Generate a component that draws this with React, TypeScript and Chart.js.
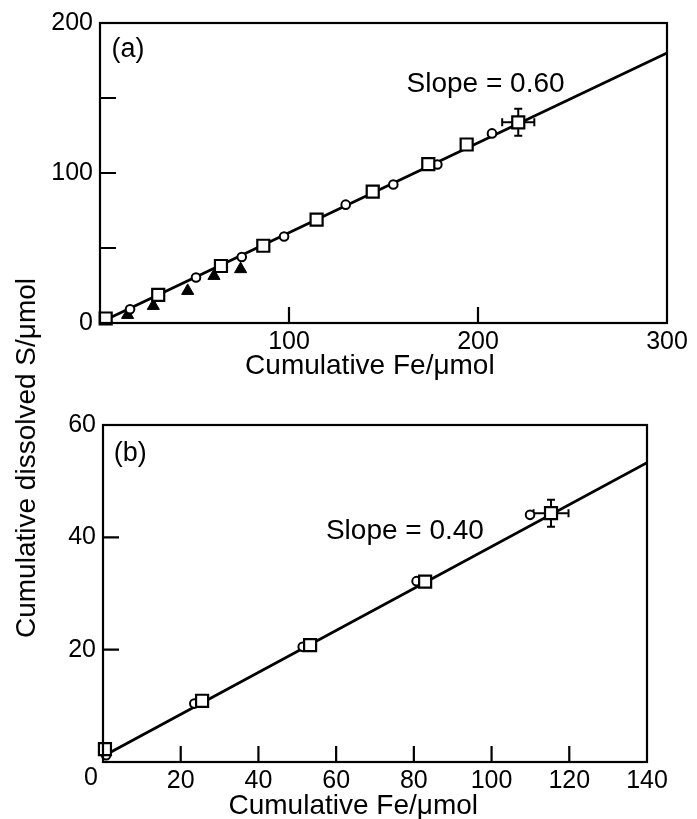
import React, { useEffect, useRef } from "react";
import { Chart, registerables } from "chart.js";

Chart.register(...registerables);

const FONT = "'Liberation Sans', Arial, Helvetica, sans-serif";

// ---------- Panel (a) data ----------
const A_SQ_X = [3, 30.8, 64, 86.4, 114.6, 144.3, 173.7, 194, 221.3];
const A_SQ_Y = [3, 18.7, 38, 51.5, 68.9, 87.6, 105.9, 119, 133.8];
const A_CI_X = [15.9, 50.8, 75, 97.4, 130, 155.2, 178.5, 207.4];
const A_CI_Y = [9.2, 30.3, 44, 57.7, 78.9, 92.3, 105.7, 126.4];
const A_TR_X = [14.6, 28.2, 46.4, 60.3, 74.4];
const A_TR_Y = [5.4, 11.4, 21.4, 31.4, 35.9];
const A_FIT_X = [2, 300];
const A_FIT_Y = [1.5, 180];
const A_ERR_X = [8.5]; // error on last square (x)
const A_ERR_Y = [9]; // error on last square (y)
const A_XTICKS = [100, 200];
const A_YTICKS = [50, 100, 150];

// ---------- Panel (b) data ----------
const B_SQ_X = [0.5, 25.5, 53.3, 82.9, 115.3];
const B_SQ_Y = [2.3, 10.9, 20.8, 32.1, 44.3];
const B_CI_X = [0.8, 23.5, 51.4, 80.7, 109.9];
const B_CI_Y = [1.2, 10.4, 20.5, 32.2, 44];
const B_FIT_X = [0.5, 140];
const B_FIT_Y = [1.2, 53.3];
const B_ERR_X = [4.5];
const B_ERR_Y = [2.4];
const B_XTICKS = [20, 40, 60, 80, 100, 120];
const B_YTICKS = [20, 40];

const X_TITLE = "Cumulative Fe/\u03bcmol";
const Y_TITLE = "Cumulative dissolved S/\u03bcmol";

const pts = (xs: number[], ys: number[]) => xs.map((x, i) => ({ x, y: ys[i] }));

const decorPlugin = {
  id: "decor",
  beforeDatasetsDraw(chart: any, _a: any, opts: any) {
    const ctx = chart.ctx;
    const xs = chart.scales.x;
    const ys = chart.scales.y;
    (opts.errorBars || []).forEach((e: any) => {
      const px = xs.getPixelForValue(e.x);
      const py = ys.getPixelForValue(e.y);
      const x0 = xs.getPixelForValue(e.x - e.ex);
      const x1 = xs.getPixelForValue(e.x + e.ex);
      const y0 = ys.getPixelForValue(e.y - e.ey);
      const y1 = ys.getPixelForValue(e.y + e.ey);
      const cap = 4;
      ctx.save();
      ctx.strokeStyle = "#000";
      ctx.lineWidth = 2;
      ctx.beginPath();
      ctx.moveTo(x0, py);
      ctx.lineTo(x1, py);
      ctx.moveTo(px, y0);
      ctx.lineTo(px, y1);
      ctx.moveTo(x0, py - cap);
      ctx.lineTo(x0, py + cap);
      ctx.moveTo(x1, py - cap);
      ctx.lineTo(x1, py + cap);
      ctx.moveTo(px - cap, y0);
      ctx.lineTo(px + cap, y0);
      ctx.moveTo(px - cap, y1);
      ctx.lineTo(px + cap, y1);
      ctx.stroke();
      ctx.restore();
    });
  },
  afterDraw(chart: any, _a: any, opts: any) {
    const ctx = chart.ctx;
    const area = chart.chartArea;
    const xs = chart.scales.x;
    const ys = chart.scales.y;
    ctx.save();
    ctx.strokeStyle = "#000";
    ctx.lineWidth = 2.2;
    ctx.strokeRect(area.left, area.top, area.right - area.left, area.bottom - area.top);
    const tl = opts.tickLen || 16;
    ctx.beginPath();
    (opts.xTicks || []).forEach((v: number) => {
      const p = xs.getPixelForValue(v);
      ctx.moveTo(p, area.bottom);
      ctx.lineTo(p, area.bottom - tl);
    });
    (opts.yTicks || []).forEach((v: number) => {
      const p = ys.getPixelForValue(v);
      ctx.moveTo(area.left, p);
      ctx.lineTo(area.left + tl, p);
    });
    ctx.stroke();
    ctx.fillStyle = "#000";
    (opts.texts || []).forEach((t: any) => {
      ctx.font = `${t.size}px ${FONT}`;
      ctx.textAlign = t.align || "center";
      ctx.textBaseline = "middle";
      const x = t.px !== undefined ? t.px : xs.getPixelForValue(t.x);
      const y = t.py !== undefined ? t.py : ys.getPixelForValue(t.y);
      ctx.fillText(t.text, x + (t.dx || 0), y + (t.dy || 0));
    });
    if (opts.xTitle) {
      const t = opts.xTitle;
      ctx.font = `${t.size}px ${FONT}`;
      ctx.textAlign = "center";
      ctx.textBaseline = "middle";
      ctx.fillText(t.text, area.left + t.frac * (area.right - area.left), area.bottom + t.dy);
    }
    ctx.restore();
  },
};

function makeConfig(p: any) {
  return {
    type: "scatter",
    data: {
      datasets: [
        {
          label: "squares",
          data: pts(p.sqX, p.sqY),
          pointStyle: "rect",
          pointRadius: 8.5,
          pointBackgroundColor: "#fff",
          pointBorderColor: "#000",
          pointBorderWidth: 2.2,
          clip: 10,
          order: 1,
        },
        {
          label: "circles",
          data: pts(p.ciX, p.ciY),
          pointStyle: "circle",
          pointRadius: 4.3,
          pointBackgroundColor: "#fff",
          pointBorderColor: "#000",
          pointBorderWidth: 2,
          clip: 10,
          order: 2,
        },
        ...(p.trX
          ? [
              {
                label: "triangles",
                data: pts(p.trX, p.trY),
                pointStyle: "triangle",
                pointRadius: 7,
                pointBackgroundColor: "#000",
                pointBorderColor: "#000",
                pointBorderWidth: 1,
                clip: 10,
                order: 3,
              },
            ]
          : []),
        {
          label: "fit",
          type: "line",
          data: pts(p.fitX, p.fitY),
          showLine: true,
          borderColor: "#000",
          borderWidth: 2.8,
          pointRadius: 0,
          fill: false,
          order: 10,
        },
      ],
    },
    options: {
      responsive: false,
      maintainAspectRatio: false,
      animation: false,
      events: [],
      layout: { padding: { top: p.padTop, right: p.padRight, left: 0, bottom: 0 } },
      plugins: {
        legend: { display: false },
        tooltip: { enabled: false },
        decor: p.decor,
      },
      scales: {
        x: {
          type: "linear",
          min: p.xMin,
          max: p.xMax,
          afterFit: (s: any) => {
            s.height = p.xAxisH;
          },
          grid: { display: false, drawTicks: false },
          border: { display: false },
          ticks: {
            stepSize: p.xStep,
            autoSkip: false,
            maxRotation: 0,
            padding: p.xTickPad,
            color: "#000",
            font: { family: FONT, size: 25 },
            callback: (v: any) => (v === 0 ? "" : String(v)),
          },
        },
        y: {
          type: "linear",
          min: p.yMin,
          max: p.yMax,
          afterFit: (s: any) => {
            s.width = p.yAxisW;
          },
          grid: { display: false, drawTicks: false },
          border: { display: false },
          ticks: {
            stepSize: p.yStep,
            autoSkip: false,
            padding: 7,
            color: "#000",
            font: { family: FONT, size: 25 },
            callback: (v: any) => (p.hideY0 && v === 0 ? "" : String(v)),
          },
        },
      },
    },
    plugins: [decorPlugin],
  } as any;
}

export default function App() {
  const refA = useRef<HTMLCanvasElement>(null);
  const refB = useRef<HTMLCanvasElement>(null);

  useEffect(() => {
    const cfgA = makeConfig({
      sqX: A_SQ_X,
      sqY: A_SQ_Y,
      ciX: A_CI_X,
      ciY: A_CI_Y,
      trX: A_TR_X,
      trY: A_TR_Y,
      fitX: A_FIT_X,
      fitY: A_FIT_Y,
      xMin: 0,
      xMax: 300,
      xStep: 100,
      yMin: 0,
      yMax: 200,
      yStep: 100,
      padTop: 23,
      padRight: 30,
      xAxisH: 67,
      yAxisW: 100,
      xTickPad: 4,
      hideY0: false,
      decor: {
        tickLen: 16,
        xTicks: A_XTICKS,
        yTicks: A_YTICKS,
        errorBars: [
          {
            x: A_SQ_X[A_SQ_X.length - 1],
            y: A_SQ_Y[A_SQ_Y.length - 1],
            ex: A_ERR_X[0],
            ey: A_ERR_Y[0],
          },
        ],
        texts: [
          { text: "(a)", x: 14.8, y: 182.6, size: 27 },
          { text: "Slope = 0.60", x: 204, y: 159, size: 28 },
        ],
        xTitle: { text: X_TITLE, size: 28, frac: 0.476, dy: 43 },
      },
    });
    const cfgB = makeConfig({
      sqX: B_SQ_X,
      sqY: B_SQ_Y,
      ciX: B_CI_X,
      ciY: B_CI_Y,
      fitX: B_FIT_X,
      fitY: B_FIT_Y,
      xMin: 0,
      xMax: 140,
      xStep: 20,
      yMin: 0,
      yMax: 60,
      yStep: 20,
      padTop: 35,
      padRight: 50,
      xAxisH: 57,
      yAxisW: 103,
      xTickPad: 4,
      hideY0: true,
      decor: {
        tickLen: 16,
        xTicks: B_XTICKS,
        yTicks: B_YTICKS,
        errorBars: [
          {
            x: B_SQ_X[B_SQ_X.length - 1],
            y: B_SQ_Y[B_SQ_Y.length - 1],
            ex: B_ERR_X[0],
            ey: B_ERR_Y[0],
          },
        ],
        texts: [
          { text: "(b)", x: 7, y: 55, size: 27 },
          { text: "Slope = 0.40", x: 77.7, y: 41.1, size: 28 },
          { text: "0", x: 0, y: 0, dx: -12, dy: 16, size: 25 },
        ],
        xTitle: { text: X_TITLE, size: 28, frac: 0.46, dy: 44 },
      },
    });
    const ca = new Chart(refA.current as HTMLCanvasElement, cfgA);
    const cb = new Chart(refB.current as HTMLCanvasElement, cfgB);
    return () => {
      ca.destroy();
      cb.destroy();
    };
  }, []);

  return (
    <div
      style={{
        position: "fixed",
        left: 0,
        top: 0,
        width: 697,
        height: 819,
        background: "#fff",
        overflow: "hidden",
      }}
    >
      <canvas
        ref={refA}
        width={697}
        height={390}
        style={{ position: "absolute", left: 0, top: 0, width: 697, height: 390 }}
      />
      <canvas
        ref={refB}
        width={697}
        height={429}
        style={{ position: "absolute", left: 0, top: 390, width: 697, height: 429 }}
      />
      <div style={{ position: "absolute", left: 26, top: 458, width: 0, height: 0 }}>
        <div
          style={{
            position: "absolute",
            left: 0,
            top: 0,
            transform: "translate(-50%, -50%) rotate(-90deg)",
            whiteSpace: "nowrap",
            fontFamily: FONT,
            fontSize: 28,
            color: "#000",
            lineHeight: 1,
          }}
        >
          {Y_TITLE}
        </div>
      </div>
    </div>
  );
}
